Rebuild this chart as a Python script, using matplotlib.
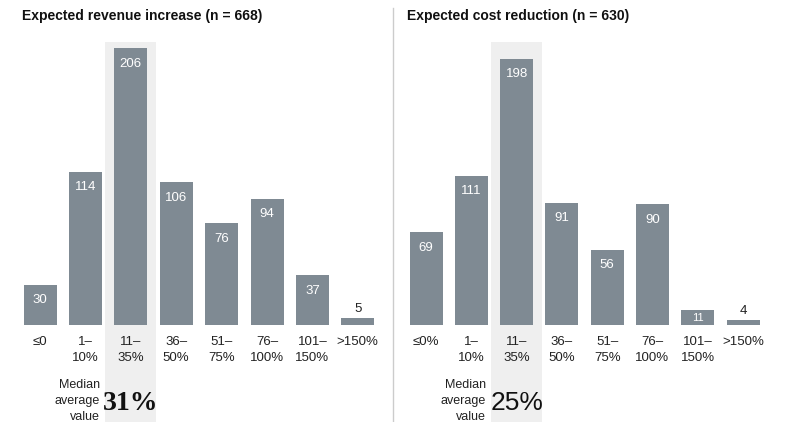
import matplotlib

matplotlib.use('Agg')
import matplotlib.pyplot as plt
from matplotlib.lines import Line2D

plt.rcParams['font.family'] = ['Liberation Sans', 'DejaVu Sans']

# data
revenue_labels = ['≤0', '1–\n10%', '11–\n35%', '36–\n50%', '51–\n75%', '76–\n100%', '101–\n150%', '>150%']
revenue_counts = [30, 114, 206, 106, 76, 94, 37, 5]
revenue_title = 'Expected revenue increase (n = 668)'
revenue_median = '31%'

cost_labels = ['≤0%', '1–\n10%', '11–\n35%', '36–\n50%', '51–\n75%', '76–\n100%', '101–\n150%', '>150%']
cost_counts = [69, 111, 198, 91, 56, 90, 11, 4]
cost_title = 'Expected cost reduction (n = 630)'
cost_median = '25%'

median_index = 2

BAR = '#7f8a93'
HILITE = '#efefef'
TEXT = '#222222'

W, H = 785, 422
PX_PER_UNIT = 1.345
BASE = 325   # baseline, px from top
TOP = 42     # top of the highlight band


def panel(fig, x0, step, labels, counts, title, median, title_x, median_font):
    left = x0 - step / 2
    right = x0 + step * 7.5
    ax = fig.add_axes([left / W, 0, (right - left) / W, (H - TOP) / H])
    ax.set_xlim(-0.5, 7.5)
    ax.set_ylim(-(H - BASE) / PX_PER_UNIT, (BASE - TOP) / PX_PER_UNIT)
    ax.axis('off')

    hw = 51 / step / 2
    ax.axvspan(median_index - hw, median_index + hw, color=HILITE, zorder=0, lw=0)

    xs = range(len(counts))
    ax.bar(xs, counts, width=33 / step, color=BAR, zorder=2)

    for i, v in zip(xs, counts):
        if v < 10:
            ax.annotate(str(v), (i, v), xytext=(0, 2), textcoords='offset points',
                        ha='center', va='bottom', fontsize=9.5, color=TEXT)
        elif v < 20:
            ax.text(i, v / 2, str(v), ha='center', va='center', fontsize=8, color='white')
        else:
            ax.annotate(str(v), (i, v), xytext=(0, -7), textcoords='offset points',
                        ha='center', va='top', fontsize=9.5, color='white')

    for i, lab in zip(xs, labels):
        ax.annotate(lab, (i, 0), xytext=(0, -8), textcoords='offset points',
                    ha='center', va='top', fontsize=9.5, color=TEXT,
                    multialignment='center', linespacing=1.4)

    ax.text(median_index - hw - 0.12, -(401 - BASE) / PX_PER_UNIT, 'Median\naverage\nvalue',
            ha='right', va='center', fontsize=9, color=TEXT, linespacing=1.4)
    ax.text(median_index, -(403 - BASE) / PX_PER_UNIT, median, ha='center', va='center',
            color='#111111', **median_font)

    fig.text(title_x / W, 1 - 16 / H, title, ha='left', va='center',
             fontsize=10, fontweight='bold', color='#111111')
    return ax


fig = plt.figure(figsize=(7.85, 4.22), dpi=100)
fig.patch.set_facecolor('white')

panel(fig, 40, 45.4, revenue_labels, revenue_counts, revenue_title, revenue_median, 22,
      dict(fontsize=20, fontweight='bold', family=['Liberation Serif', 'DejaVu Serif']))
panel(fig, 426, 45.3, cost_labels, cost_counts, cost_title, cost_median, 407,
      dict(fontsize=19))

fig.add_artist(Line2D([393 / W, 393 / W], [0, 1 - 8 / H], color='#cccccc', lw=1,
                      transform=fig.transFigure))

fig.savefig('out.png', dpi=100)
